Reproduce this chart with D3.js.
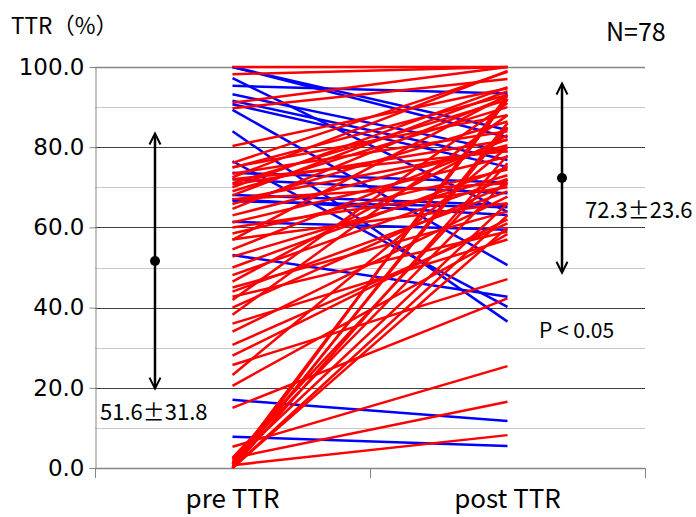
<!DOCTYPE html>
<html>
<head>
<meta charset="utf-8">
<script src="https://cdn.jsdelivr.net/npm/d3@7"></script>
<style>
  body { margin: 0; background: #fff; }
  text { font-family: "Noto Sans CJK JP", "Noto Sans", sans-serif; fill: #000; }
</style>
</head>
<body>
<div id="chart"></div>
<script>
// categories on the x axis
var categories = ["pre TTR", "post TTR"];

// TTR per patient, before and after
var preTTR = [100, 100, 100, 98.2, 97.2, 95.3, 93.2, 91.6, 91.1, 90.7, 89.7, 89.3, 84, 80.3,
  76.5, 76.1, 75, 74.9, 73.6, 73.4, 72.5, 72, 72, 71, 70.7, 70, 69, 68.1, 68, 67, 67, 66.8,
  66.5, 65.8, 64.6, 63, 61.4, 61.2, 60, 58.5, 57, 56.9, 54.5, 53.1, 52.7, 50, 48.1, 46.5,
  45, 44, 42.7, 41.9, 40, 38.2, 36, 34, 30.7, 28, 25.7, 23.2, 20.5, 17, 15, 7.8, 5.3, 2.5,
  2.5, 2, 1.5, 1, 1, 0.7, 0.5, 0, 0, 0, 0, 0];
var postTTR = [84.3, 82.5, 100, 100, 63.9, 93.4, 78.9, 76.8, 100, 75.1, 97, 50.6, 36.5, 94.7,
  40.2, 98.8, 88, 93, 71.2, 84, 99, 68.5, 79, 91.8, 81.8, 95, 90, 65.6, 94, 63.1, 71, 79.8,
  65, 86.4, 92.6, 80.5, 59.4, 77.6, 70, 74.4, 66, 93, 82, 42.7, 73, 75, 72.1, 83,
  64, 69, 59, 91, 70.8, 88, 57, 67.7, 61, 62, 47.1, 80, 58.3, 11.7, 42.3, 5.5, 25.4, 16.5,
  76, 72, 66, 92, 92, 8.2, 85, 63, 78, 60, 93, 86];

// summary values
var meanTTR = [51.6, 72.3];
var sdTTR = [31.8, 23.6];
var yTicks = [0, 20, 40, 60, 80, 100];
var yMinor = [10, 30, 50, 70, 90];

var svgWidth = 696;
var svgHeight = 517;
var plotLeft = 95, plotRight = 645, plotTop = 67, plotBottom = 468;

var svg = d3.select("#chart")
  .append("svg")
  .attr("width", svgWidth)
  .attr("height", svgHeight);

var x = d3.scaleBand()
  .domain(categories)
  .range([plotLeft, plotRight]);

var y = d3.scaleLinear()
  .domain([0, 100])
  .range([plotBottom, plotTop]);

var xc = d => x(d) + x.bandwidth() / 2;

// grid lines
svg.append("g").selectAll("line.minor")
  .data(yMinor)
  .enter()
  .append("line")
  .attr("x1", plotLeft).attr("x2", plotRight)
  .attr("y1", d => Math.round(y(d)) + 0.5)
  .attr("y2", d => Math.round(y(d)) + 0.5)
  .attr("stroke", "#c8c8c8")
  .attr("stroke-width", 1);

svg.append("g").selectAll("line.major")
  .data(yTicks)
  .enter()
  .append("line")
  .attr("x1", plotLeft).attr("x2", plotRight)
  .attr("y1", d => Math.round(y(d)) + 0.5)
  .attr("y2", d => Math.round(y(d)) + 0.5)
  .attr("stroke", d => d === 0 || d === 100 ? "#868686" : "#404040")
  .attr("stroke-width", d => d === 0 || d === 100 ? 1.5 : 1);

// y axis
var leftAxis = d3.axisLeft(y)
  .tickValues(yTicks)
  .tickFormat(d3.format(".1f"))
  .tickSizeInner(6)
  .tickSizeOuter(0)
  .tickPadding(5);

var yAxis = svg.append("g")
  .attr("transform", `translate(${plotLeft + 0.5}, 0)`)
  .call(leftAxis);
yAxis.select(".domain").attr("stroke", "#868686");
yAxis.selectAll(".tick line").attr("stroke", "#868686");
yAxis.selectAll(".tick text")
  .style("font-size", "23px")
  .style("font-family", "'DejaVu Sans', sans-serif");

// x axis
var bottomAxis = d3.axisBottom(x)
  .tickSize(0)
  .tickPadding(22);

var xAxis = svg.append("g")
  .attr("transform", `translate(0, ${plotBottom})`)
  .call(bottomAxis);
xAxis.select(".domain").remove();
xAxis.selectAll(".tick text")
  .style("font-size", "26px")
  .style("font-family", "'Noto Sans CJK JP', sans-serif");

// category separators on the x axis
var sepX = categories.map(d => x(d)).concat([plotRight]);
svg.append("g").selectAll("line")
  .data(sepX)
  .enter()
  .append("line")
  .attr("x1", d => Math.round(d) + 0.5).attr("x2", d => Math.round(d) + 0.5)
  .attr("y1", plotBottom).attr("y2", plotBottom + 10)
  .attr("stroke", "#868686");

// patient lines
var pairs = preTTR.map((p, i) => ({ pre: p, post: postTTR[i] }));

svg.append("g").selectAll("line")
  .data(pairs)
  .enter()
  .append("line")
  .attr("x1", xc(categories[0]))
  .attr("x2", xc(categories[1]))
  .attr("y1", d => y(d.pre))
  .attr("y2", d => y(d.post))
  .attr("stroke", d => d.post < d.pre ? "#0000ff" : "#ff0000")
  .attr("stroke-width", 2.5);

// mean +- SD bars
var barX = [155, 562];
var eb = svg.append("g");
meanTTR.forEach(function(m, i) {
  var top = y(m + sdTTR[i]);
  var bot = y(m - sdTTR[i]);
  var bx = barX[i];
  eb.append("line")
    .attr("x1", bx).attr("x2", bx)
    .attr("y1", top + 1).attr("y2", bot - 1)
    .attr("stroke", "#000").attr("stroke-width", 2.5);
  eb.append("path")
    .attr("d", `M${bx - 5.5},${top + 11} L${bx},${top} L${bx + 5.5},${top + 11}`)
    .attr("fill", "none").attr("stroke", "#000").attr("stroke-width", 2);
  eb.append("path")
    .attr("d", `M${bx - 5.5},${bot - 11} L${bx},${bot} L${bx + 5.5},${bot - 11}`)
    .attr("fill", "none").attr("stroke", "#000").attr("stroke-width", 2);
  eb.append("circle")
    .attr("cx", bx).attr("cy", y(m))
    .attr("r", 5)
    .attr("fill", "#000");
});

// texts
svg.append("text")
  .attr("x", 100).attr("y", 420)
  .style("font-size", "22px")
  .text(`${meanTTR[0]}±${sdTTR[0]}`);

svg.append("text")
  .attr("x", 585).attr("y", 218)
  .style("font-size", "22px")
  .text(`${meanTTR[1]}±${sdTTR[1]}`);

svg.append("text")
  .attr("x", 539).attr("y", 338)
  .style("font-size", "21px")
  .text("P < 0.05");

svg.append("text")
  .attr("x", 606).attr("y", 41)
  .style("font-size", "25px")
  .text("N=" + preTTR.length);

svg.append("text")
  .attr("x", 11).attr("y", 34)
  .style("font-size", "22.5px")
  .text("TTR（%）");
</script>
</body>
</html>
